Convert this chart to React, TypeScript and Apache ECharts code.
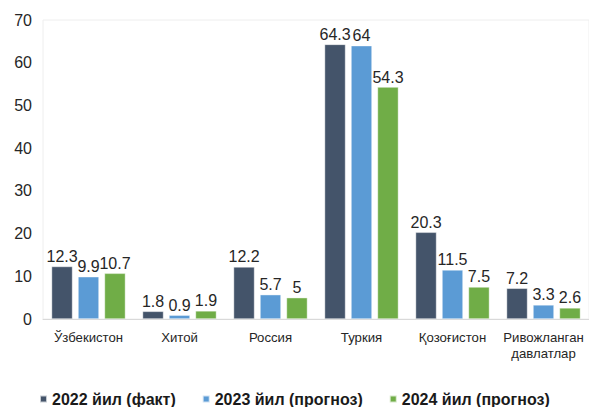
import React, { useEffect, useRef } from "react";
import * as echarts from "echarts";

const categories = ["Ўзбекистон", "Хитой", "Россия", "Туркия", "Қозоғистон", "Ривожланган\nдавлатлар"];
const seriesNames = ["2022 йил (факт)", "2023 йил (прогноз)", "2024 йил (прогноз)"];
const v2022 = [12.3, 1.8, 12.2, 64.3, 20.3, 7.2];
const v2023 = [9.9, 0.9, 5.7, 64, 11.5, 3.3];
const v2024 = [10.7, 1.9, 5, 54.3, 7.5, 2.6];
const colors = ["#44546A", "#5B9BD5", "#70AD47"];

export default function App() {
  const ref = useRef<HTMLDivElement>(null);
  useEffect(() => {
    document.body.style.margin = "0";
    document.body.style.overflow = "hidden";
    const chart = echarts.init(ref.current!, null, { renderer: "svg" });
    const font = "Liberation Sans, Arial, sans-serif";
    const mk = (name: string, data: number[], color: string) => ({
      name,
      type: "bar",
      data,
      barWidth: 21,
      barGap: "26%",
      itemStyle: { color, borderColor: "rgba(255,255,255,0.7)", borderWidth: 0.6 },
      label: {
        show: true,
        position: "top",
        distance: 2,
        color: "#262626",
        fontSize: 16,
        fontFamily: font,
      },
    });
    chart.setOption({
      animation: false,
      textStyle: { fontFamily: font },
      grid: {
        left: 43,
        top: 20,
        width: 550,
        bottom: 88,
        containLabel: false,
        show: true,
        borderColor: "#eeeeee",
        borderWidth: 1,
        backgroundColor: "transparent",
      },
      legend: {
        top: 386,
        left: 34,
        padding: [5, 5, 0, 5],
        itemWidth: 7,
        itemHeight: 7,
        itemGap: 26,
        icon: "rect",
        textStyle: {
          fontSize: 16,
          lineHeight: 16,
          fontWeight: "bold",
          color: "#1a1a1a",
          fontFamily: font,
        },
        data: seriesNames,
      },
      xAxis: {
        type: "category",
        data: categories,
        axisTick: { show: false },
        axisLine: { lineStyle: { color: "#d9d9d9" } },
        axisLabel: { color: "#262626", fontSize: 13.2, margin: 10, lineHeight: 16, interval: 0 },
      },
      yAxis: {
        type: "value",
        min: 0,
        max: 70,
        interval: 10,
        splitLine: { show: false },
        axisLine: { show: false },
        axisTick: { show: false },
        axisLabel: { color: "#262626", fontSize: 16, margin: 11 },
      },
      series: [
        mk(seriesNames[0], v2022, colors[0]),
        mk(seriesNames[1], v2023, colors[1]),
        mk(seriesNames[2], v2024, colors[2]),
      ],
    });
    return () => chart.dispose();
  }, []);
  return (
    <div
      ref={ref}
      style={{ position: "absolute", left: 0, top: 0, width: 589, height: 407 }}
    />
  );
}
